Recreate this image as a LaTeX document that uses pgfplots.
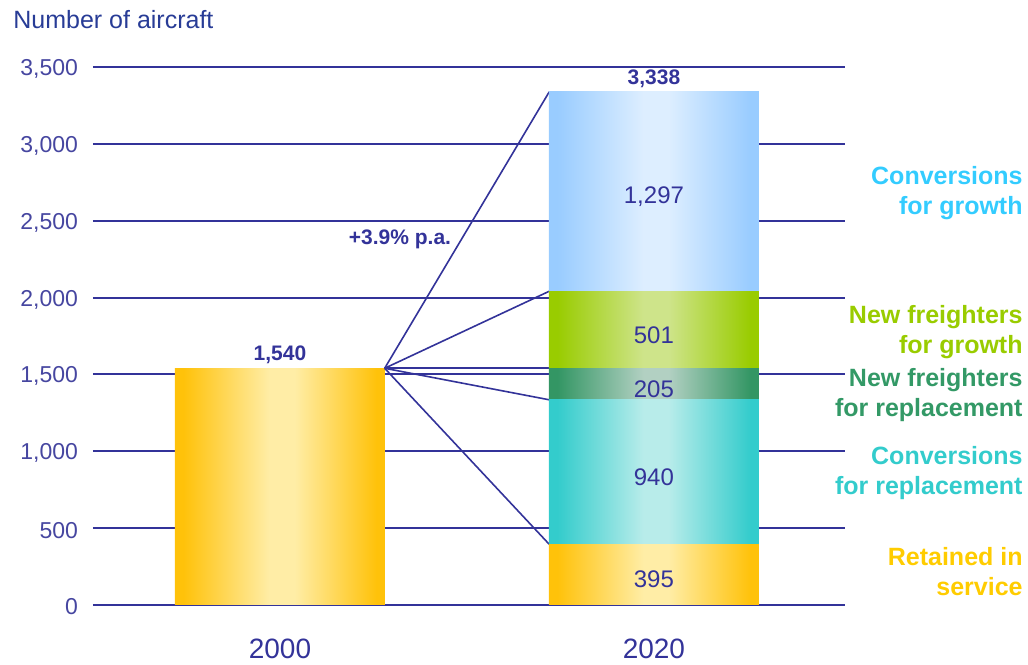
\documentclass[border=0pt]{standalone}
\usepackage{pgfplots}
\pgfplotsset{compat=1.18}
\usepackage{fontspec}
\setmainfont{Liberation Sans}

\definecolor{navy}{RGB}{51,51,153}
\definecolor{ticknavy}{RGB}{70,70,160}
\definecolor{titleblue}{RGB}{40,60,150}
% edge and centre colours of the bar shadings
\definecolor{yEdge}{RGB}{255,194,10}
\definecolor{yMid}{RGB}{255,237,166}
\definecolor{tEdge}{RGB}{51,204,204}
\definecolor{tMid}{RGB}{184,236,234}
\definecolor{dEdge}{RGB}{51,150,100}
\definecolor{dMid}{RGB}{178,208,194}
\definecolor{gEdge}{RGB}{153,204,0}
\definecolor{gMid}{RGB}{206,228,138}
\definecolor{bEdge}{RGB}{153,204,255}
\definecolor{bMid}{RGB}{221,238,255}
\definecolor{lblBlue}{RGB}{51,204,255}
\definecolor{lblGreen}{RGB}{153,204,0}
\definecolor{lblDark}{RGB}{51,153,102}
\definecolor{lblTeal}{RGB}{51,204,204}
\definecolor{lblYellow}{RGB}{255,204,0}

% the path maps onto 25bp..75bp of the shading
\newcommand\barshade[3]{%
  \pgfdeclarehorizontalshading{#1}{100bp}{color(0bp)=(#2); color(25bp)=(#2);
    color(27bp)=(#2); color(47.5bp)=(#3); color(53.5bp)=(#3); color(73bp)=(#2);
    color(75bp)=(#2); color(100bp)=(#2)}}
\barshade{yshade}{yEdge}{yMid}
\barshade{tshade}{tEdge}{tMid}
\barshade{dshade}{dEdge}{dMid}
\barshade{gshade}{gEdge}{gMid}
\barshade{bshade}{bEdge}{bMid}

\tikzset{
  seg/.style={font=\fontsize{12}{14}\selectfont, text=navy, yshift=-2.5pt},
  tot/.style={font=\bfseries\fontsize{10.5}{12}\selectfont, text=navy, yshift=-1.5pt},
}
\pgfplotsset{
  common/.style={
    at={(0,0)}, anchor=south west,
    scale only axis, width=376pt, height=269pt,
    xmin=-0.5, xmax=1.511, ymin=0, ymax=3500,
    clip=false,
  },
}

\begin{document}
\begin{tikzpicture}
% grid, 2000 bar and growth fan
\begin{axis}[
  common,
  ytick={0,500,...,3500},
  xtick={0,1}, xticklabels={2000,2020},
  axis line style={draw=none},
  major tick length=0pt,
  ymajorgrids, grid style={navy, line width=1pt},
  scaled y ticks=false,
  /pgf/number format/assume math mode=true,
  yticklabel style={font=\fontsize{11.5}{13}\selectfont, text=ticknavy, xshift=-4pt, yshift=-1pt},
  xticklabel style={font=\fontsize{14}{16}\selectfont, text=navy, yshift=-13.5pt},
]
\addplot[ybar, bar width=105pt, draw=none, shade, shading=yshade]
  coordinates {(0,1540)};
\addplot[navy, line width=0.8pt, no marks] coordinates {(0.28,1540) (0.72,3338)};
\addplot[navy, line width=0.8pt, no marks] coordinates {(0.28,1540) (0.72,2041)};
\addplot[navy, line width=0.8pt, no marks] coordinates {(0.28,1540) (0.72,1540)};
\addplot[navy, line width=0.8pt, no marks] coordinates {(0.28,1540) (0.72,1335)};
\addplot[navy, line width=0.8pt, no marks] coordinates {(0.28,1540) (0.72,395)};
\node[tot] at (axis cs:0,1646) {1,540};
\node[tot] at (axis cs:0.321,2400) {+3.9\% p.a.};
\end{axis}
% 2020 stacked bar
\begin{axis}[
  common,
  hide axis,
  ybar stacked, bar width=105pt,
]
\addplot[draw=none, shade, shading=yshade] coordinates {(1,395)};
\addplot[draw=none, shade, shading=tshade] coordinates {(1,940)};
\addplot[draw=none, shade, shading=dshade] coordinates {(1,205)};
\addplot[draw=none, shade, shading=gshade] coordinates {(1,501)};
\addplot[draw=none, shade, shading=bshade] coordinates {(1,1297)};
\end{axis}
% segment values on top of the stacked bar
\begin{axis}[common, hide axis]
\node[seg] at (axis cs:1,197) {395};
\node[seg] at (axis cs:1,865) {940};
\node[seg] at (axis cs:1,1437) {205};
\node[seg] at (axis cs:1,1790) {501};
\node[seg] at (axis cs:1,2689) {1,297};
\node[tot] at (axis cs:1,3442) {3,338};
\end{axis}
% titles and segment names
\node[anchor=west, inner sep=0, text=titleblue, font=\fontsize{12.5}{15}\selectfont]
  at (-40pt,292.5pt) {Number of aircraft};
\begin{scope}[every node/.style={anchor=east, align=right, inner sep=0,
    font=\bfseries\fontsize{12.5}{15}\selectfont}]
\node[text=lblBlue] at (465pt,206pt) {Conversions\\for growth};
\node[text=lblGreen] at (465pt,136.5pt) {New freighters\\for growth};
\node[text=lblDark] at (465pt,105pt) {New freighters\\for replacement};
\node[text=lblTeal] at (465pt,66pt) {Conversions\\for replacement};
\node[text=lblYellow] at (465pt,16.5pt) {Retained in\\service};
\end{scope}
\pgfresetboundingbox
\path[use as bounding box] (-46.5pt,-29.5pt) rectangle (467.5pt,302.5pt);
\end{tikzpicture}
\end{document}
